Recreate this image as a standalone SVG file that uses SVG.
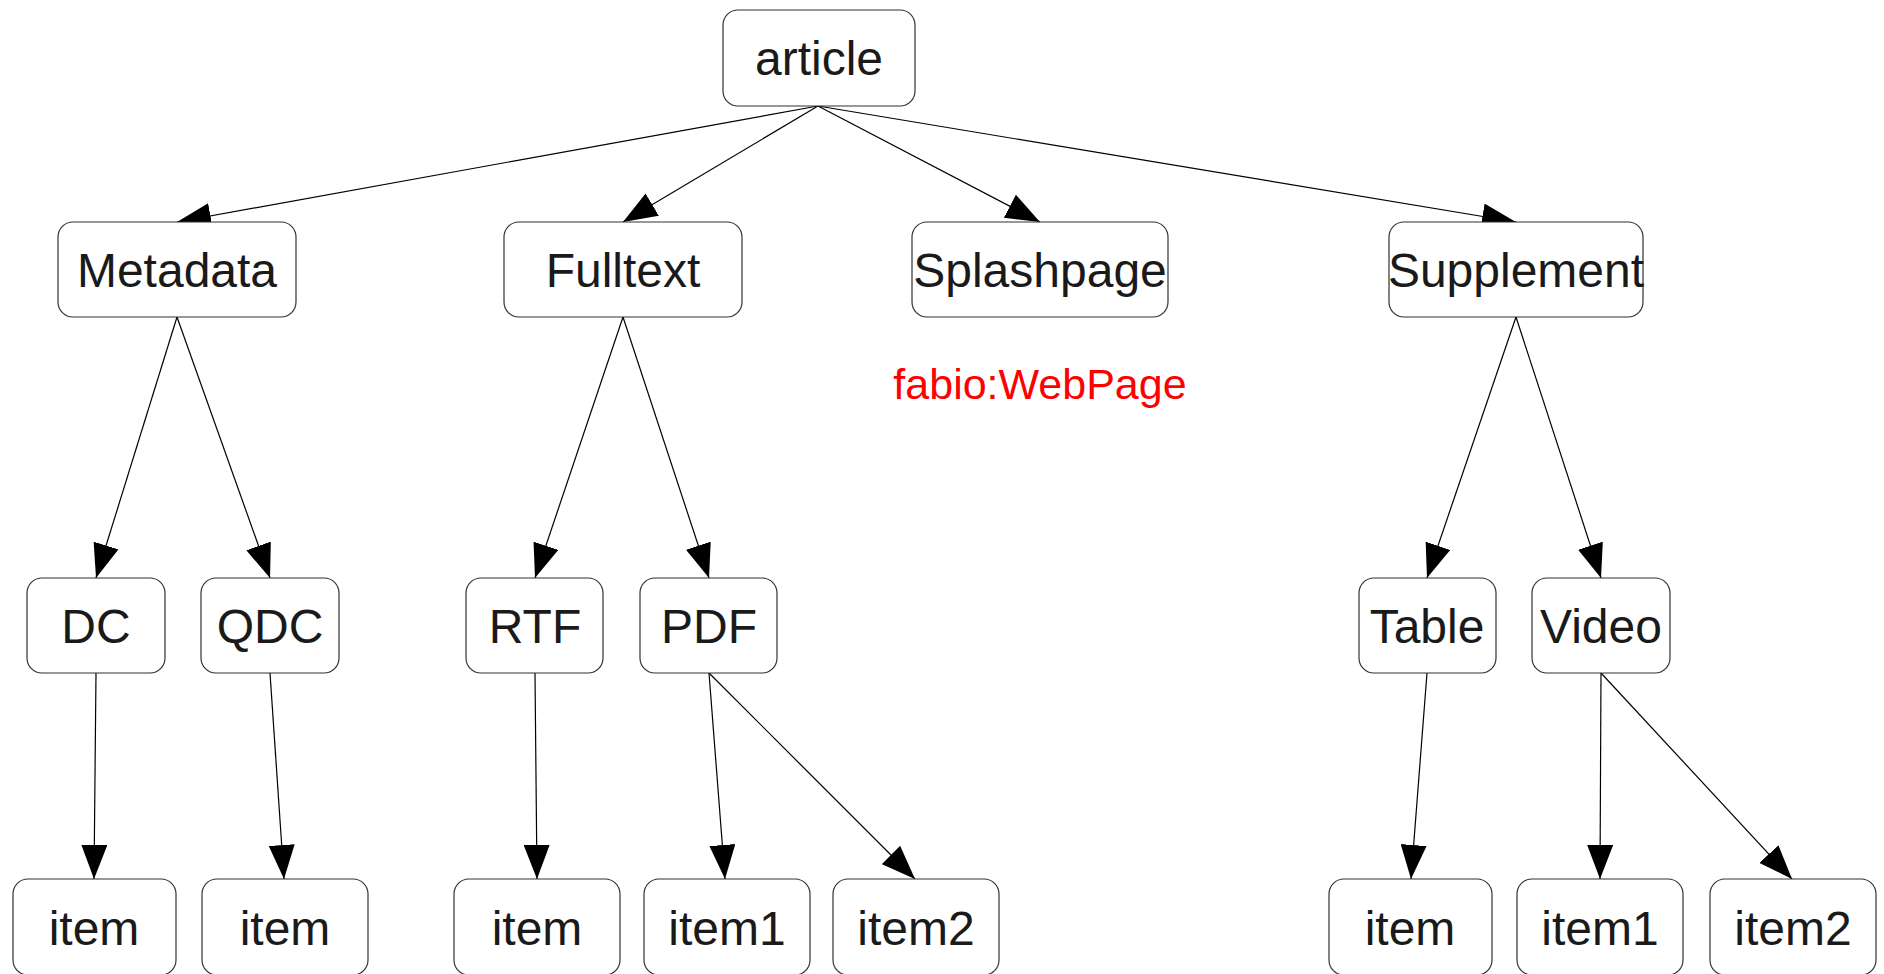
<svg xmlns="http://www.w3.org/2000/svg" width="1884" height="974" viewBox="0 0 1884 974">
<style>
.box{fill:#fff;stroke:#333;stroke-width:1.2}
.lbl{font-family:"Liberation Sans",Arial,sans-serif;font-size:48px;fill:#1a1a1a;text-anchor:middle}
.edge{stroke:#000;stroke-width:1.2;fill:none;marker-end:url(#arr)}
.note{font-family:"Liberation Sans",Arial,sans-serif;font-size:43px;fill:#ff0000;text-anchor:middle}
</style>
<defs>
<marker id="arr" markerUnits="userSpaceOnUse" markerWidth="34" markerHeight="26" refX="34" refY="13" orient="auto">
<path d="M0,0 L34,13 L0,26 z" fill="#000"/>
</marker>
</defs>
<rect width="1884" height="974" fill="#fff"/>
<g id="connectors">
<line class="edge" x1="818" y1="106" x2="177" y2="222"/>
<line class="edge" x1="818" y1="106" x2="623" y2="222"/>
<line class="edge" x1="818" y1="106" x2="1040" y2="222"/>
<line class="edge" x1="818" y1="106" x2="1516" y2="222"/>
<line class="edge" x1="177" y1="317" x2="96" y2="578"/>
<line class="edge" x1="177" y1="317" x2="270" y2="578"/>
<line class="edge" x1="623" y1="317" x2="535" y2="578"/>
<line class="edge" x1="623" y1="317" x2="709" y2="578"/>
<line class="edge" x1="1516" y1="317" x2="1427" y2="578"/>
<line class="edge" x1="1516" y1="317" x2="1601" y2="578"/>
<line class="edge" x1="96" y1="673" x2="94" y2="879"/>
<line class="edge" x1="270" y1="673" x2="284" y2="879"/>
<line class="edge" x1="535" y1="673" x2="537" y2="879"/>
<line class="edge" x1="709" y1="673" x2="725" y2="879"/>
<line class="edge" x1="709" y1="673" x2="915" y2="879"/>
<line class="edge" x1="1427" y1="673" x2="1411" y2="879"/>
<line class="edge" x1="1601" y1="673" x2="1600" y2="879"/>
<line class="edge" x1="1601" y1="673" x2="1792" y2="879"/>
</g>
<g id="article"><rect class="box" x="723" y="10" width="192" height="96" rx="15"/><text class="lbl" x="819" y="75">article</text></g>
<g id="metadata"><rect class="box" x="58" y="222" width="238" height="95" rx="15"/><text class="lbl" x="177" y="287">Metadata</text></g>
<g id="fulltext"><rect class="box" x="504" y="222" width="238" height="95" rx="15"/><text class="lbl" x="623" y="287">Fulltext</text></g>
<g id="splashpage"><rect class="box" x="912" y="222" width="256" height="95" rx="15"/><text class="lbl" x="1040" y="287">Splashpage</text></g>
<g id="supplement"><rect class="box" x="1389" y="222" width="254" height="95" rx="15"/><text class="lbl" x="1516" y="287">Supplement</text></g>
<text class="note" x="1040" y="399">fabio:WebPage</text>
<g id="dc"><rect class="box" x="27" y="578" width="138" height="95" rx="15"/><text class="lbl" x="96" y="643">DC</text></g>
<g id="qdc"><rect class="box" x="201" y="578" width="138" height="95" rx="15"/><text class="lbl" x="270" y="643">QDC</text></g>
<g id="rtf"><rect class="box" x="466" y="578" width="137" height="95" rx="15"/><text class="lbl" x="535" y="643">RTF</text></g>
<g id="pdf"><rect class="box" x="640" y="578" width="137" height="95" rx="15"/><text class="lbl" x="709" y="643">PDF</text></g>
<g id="table"><rect class="box" x="1359" y="578" width="137" height="95" rx="15"/><text class="lbl" x="1427" y="643">Table</text></g>
<g id="video"><rect class="box" x="1532" y="578" width="138" height="95" rx="15"/><text class="lbl" x="1601" y="643">Video</text></g>
<g id="item-dc"><rect class="box" x="13" y="879" width="163" height="96" rx="15"/><text class="lbl" x="94" y="945">item</text></g>
<g id="item-qdc"><rect class="box" x="202" y="879" width="166" height="96" rx="15"/><text class="lbl" x="285" y="945">item</text></g>
<g id="item-rtf"><rect class="box" x="454" y="879" width="166" height="96" rx="15"/><text class="lbl" x="537" y="945">item</text></g>
<g id="item1-pdf"><rect class="box" x="644" y="879" width="166" height="96" rx="15"/><text class="lbl" x="727" y="945">item1</text></g>
<g id="item2-pdf"><rect class="box" x="833" y="879" width="166" height="96" rx="15"/><text class="lbl" x="916" y="945">item2</text></g>
<g id="item-table"><rect class="box" x="1329" y="879" width="163" height="96" rx="15"/><text class="lbl" x="1410" y="945">item</text></g>
<g id="item1-video"><rect class="box" x="1517" y="879" width="166" height="96" rx="15"/><text class="lbl" x="1600" y="945">item1</text></g>
<g id="item2-video"><rect class="box" x="1710" y="879" width="166" height="96" rx="15"/><text class="lbl" x="1793" y="945">item2</text></g>
</svg>
